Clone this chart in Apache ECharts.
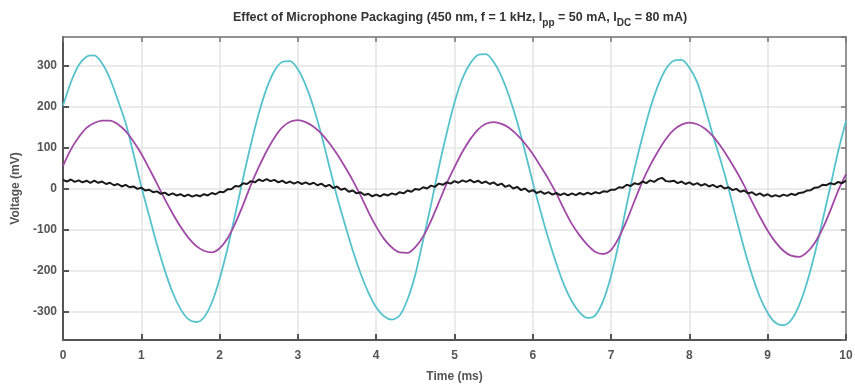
<!DOCTYPE html>
<html>
<head>
<meta charset="utf-8">
<script src="https://cdn.jsdelivr.net/npm/echarts@6/dist/echarts.min.js"></script>
<style>
  html, body { margin: 0; padding: 0; background: #fff; }
  #Chart { width: 855px; height: 384px; }
</style>
</head>
<body>
<div id="Chart"></div>
<script>
// time step of the sampled traces (ms)
const stepCyan = 0.1
const stepPurple = 0.1
const stepBlack = 0.05

// cyan trace, 0..10 ms every 0.1 ms (mV)
const cyanValues = [
  202, 259, 301, 322, 325, 305, 268, 216, 160, 85,
  5, -66, -137, -200, -254, -294, -319, -326, -315, -279,
  -221, -147, -63, 25, 108, 183, 244, 287, 309, 311,
  291, 252, 198, 131, 55, -20, -87, -151, -207, -254,
  -290, -312, -320, -310, -271, -210, -125, -40, 52, 135,
  210, 268, 305, 326, 328, 309, 274, 224, 163, 91,
  15, -56, -123, -183, -236, -276, -303, -316, -309, -274,
  -213, -132, -39, 49, 126, 196, 252, 292, 312, 314,
  295, 259, 198, 130, 68, 0, -75, -147, -211, -265,
  -304, -328, -334, -321, -286, -231, -160, -78, 5, 91,
  165
]

// purple trace, 0..10 ms every 0.1 ms (mV)
const purpleValues = [
  55, 95, 125, 148, 160, 166, 166, 157, 140, 115,
  85, 49, 12, -26, -61, -93, -120, -140, -152, -156,
  -146, -122, -85, -40, 9, 52, 91, 124, 149, 163,
  167, 162, 151, 134, 111, 84, 53, 20, -17, -57,
  -93, -123, -144, -156, -157, -143, -117, -79, -34, 12,
  52, 89, 120, 144, 158, 162, 158, 148, 131, 110,
  84, 54, 23, -12, -51, -87, -115, -138, -155, -160,
  -150, -120, -78, -30, 17, 57, 91, 121, 143, 156,
  161, 157, 146, 128, 103, 74, 42, 7, -32, -69,
  -103, -131, -152, -164, -167, -156, -133, -98, -54, -5,
  35
]

// black trace, 0..10 ms every 0.05 ms (mV)
const blackValues = [
  21, 17, 22, 16, 20, 15, 19, 14, 19, 14,
  17, 11, 14, 8, 11, 5, 9, 3, 5, -1,
  2, -5, -3, -9, -7, -13, -10, -16, -12, -17,
  -14, -19, -15, -20, -16, -19, -14, -17, -11, -14,
  -8, -9, -2, -2, 6, 5, 13, 11, 18, 15,
  22, 18, 23, 18, 21, 15, 19, 13, 17, 12,
  16, 11, 15, 10, 14, 8, 12, 5, 9, 1,
  5, -3, 0, -8, -5, -12, -9, -16, -13, -19,
  -15, -19, -14, -17, -12, -15, -9, -12, -5, -8,
  -1, -3, 3, 0, 7, 4, 12, 9, 15, 12,
  18, 14, 20, 16, 21, 15, 19, 13, 17, 11,
  15, 8, 12, 4, 8, 0, 4, -4, 0, -8,
  -4, -11, -7, -13, -9, -15, -11, -16, -12, -17,
  -12, -16, -11, -15, -10, -14, -9, -12, -7, -8,
  -3, -3, 3, 2, 9, 6, 13, 10, 17, 13,
  20, 16, 23, 26, 18, 17, 19, 13, 17, 11,
  15, 9, 13, 7, 11, 5, 9, 3, 7, 0,
  3, -4, -1, -8, -5, -12, -9, -16, -12, -18,
  -14, -20, -16, -20, -15, -18, -13, -16, -11, -10,
  -5, -4, 2, 3, 9, 8, 13, 10, 16, 13,
  19
]

const toPairs = (values, step) => values.map((v, i) => [+(i * step).toFixed(2), v])

const chart = echarts.init(document.getElementById("Chart"), null, { renderer: "canvas" })

const labelStyle = {
  color: "#555",
  fontWeight: "bold",
  fontSize: 12,
  fontFamily: "Liberation Sans, Arial, sans-serif"
}

let option = {
  animation: false,
  backgroundColor: "#fff",
  textStyle: { fontFamily: "Liberation Sans, Arial, sans-serif" },
  title: {
    text: "Effect of Microphone Packaging (450 nm, f = 1 kHz, I{sub|pp} = 50 mA, I{sub|DC} = 80 mA)",
    left: 455,
    top: 3,
    textAlign: "center",
    textStyle: {
      color: "#333",
      fontSize: 12.5,
      fontWeight: "bold",
      rich: {
        sub: {
          color: "#333",
          fontSize: 10,
          fontWeight: "bold",
          padding: [10, 0, 0, 0]
        }
      }
    }
  },
  grid: {
    left: 63,
    right: 9,
    top: 37,
    bottom: 44,
    containLabel: false,
    outerBoundsMode: "none"
  },
  xAxis: [
    {
      type: "value",
      min: 0,
      max: 10,
      interval: 1,
      name: "Time (ms)",
      nameLocation: "middle",
      nameGap: 31,
      nameTextStyle: labelStyle,
      axisLine: { show: true, onZero: false, lineStyle: { color: "#555", width: 2 } },
      axisTick: { inside: true, length: 6, lineStyle: { color: "#555", width: 2 } },
      axisLabel: Object.assign({ margin: 10 }, labelStyle),
      splitLine: { show: true, lineStyle: { color: "#e4e4e4", width: 1.5 } }
    },
    {
      type: "value",
      position: "top",
      min: 0,
      max: 10,
      interval: 1,
      axisLine: { show: true, onZero: false, lineStyle: { color: "#777", width: 1.5 } },
      axisTick: { inside: true, length: 5, lineStyle: { color: "#777", width: 1.5 } },
      axisLabel: { show: false },
      splitLine: { show: false }
    }
  ],
  yAxis: [
    {
      type: "value",
      min: -370,
      max: 370,
      splitNumber: 7,
      name: "Voltage (mV)",
      nameLocation: "middle",
      nameGap: 36,
      nameTextStyle: labelStyle,
      axisLine: { show: true, onZero: false, lineStyle: { color: "#555", width: 2 } },
      axisTick: { inside: true, length: 6, lineStyle: { color: "#555", width: 2 } },
      axisLabel: Object.assign({ margin: 6, showMinLabel: false, showMaxLabel: false }, labelStyle),
      splitLine: { show: true, lineStyle: { color: "#e4e4e4", width: 1.5 } }
    },
    {
      type: "value",
      position: "right",
      min: -370,
      max: 370,
      splitNumber: 7,
      axisLine: { show: true, onZero: false, lineStyle: { color: "#777", width: 1.5 } },
      axisTick: { inside: true, length: 5, lineStyle: { color: "#777", width: 1.5 } },
      axisLabel: { show: false },
      splitLine: { show: false }
    }
  ],
  series: [
    {
      name: "cyan",
      type: "line",
      showSymbol: false,
      smooth: 0.3,
      lineStyle: { color: "#56c3cc", width: 1.8 },
      data: toPairs(cyanValues, stepCyan)
    },
    {
      name: "purple",
      type: "line",
      showSymbol: false,
      smooth: 0.3,
      lineStyle: { color: "#a04aa6", width: 1.8 },
      data: toPairs(purpleValues, stepPurple)
    },
    {
      name: "black",
      type: "line",
      showSymbol: false,
      lineStyle: { color: "#1a1a1a", width: 2 },
      data: toPairs(blackValues, stepBlack)
    }
  ]
}
chart.setOption(option)
</script>
</body>
</html>
